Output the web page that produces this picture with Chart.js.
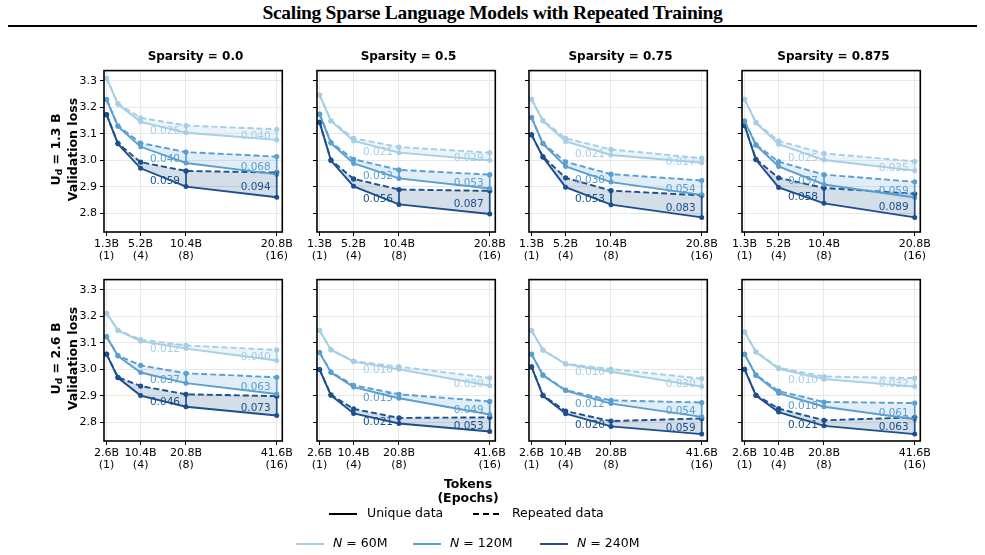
<!DOCTYPE html>
<html>
<head>
<meta charset="utf-8">
<script src="https://cdn.jsdelivr.net/npm/chart.js@4.4.0/dist/chart.umd.min.js"></script>
<style>
  body { margin: 0; width: 985px; height: 555px; background: #fff; position: relative; overflow: hidden; font-family: "DejaVu Sans", sans-serif; color: #000; }
  #mainTitle { position: absolute; left: 0; width: 985px; top: 2px; text-align: center; font-family: "Liberation Serif", serif; font-weight: bold; font-size: 19.5px; letter-spacing: -0.3px; }
  #rule { position: absolute; left: 8px; width: 969px; top: 25px; height: 2px; background: #000; }
  .panel { position: absolute; }
  .ptitle { position: absolute; width: 183px; text-align: center; font-weight: bold; font-size: 12px; }
  .ytitle { position: absolute; width: 200px; text-align: center; font-weight: bold; font-size: 12.5px; line-height: 14px; transform: rotate(-90deg); transform-origin: center center; }
  .ytitle sub { font-size: 9px; vertical-align: -2px; }
  #xtitle { position: absolute; left: 368px; width: 200px; top: 477px; text-align: center; font-weight: bold; font-size: 12.5px; line-height: 14px; }
  .leg { position: absolute; font-size: 12.5px; white-space: nowrap; }
  .leg svg { position: absolute; }
</style>
</head>
<body>
<div id="mainTitle">Scaling Sparse Language Models with Repeated Training</div>
<div id="rule"></div>
<div id="panels"></div>
<div id="xtitle">Tokens<br>(Epochs)</div>
<div class="leg" style="left:329px;top:505px;"><svg width="30" height="4" style="left:0;top:7px"><line x1="0" y1="2" x2="28" y2="2" stroke="#000" stroke-width="2"/></svg><span style="position:absolute;left:38px;top:0">Unique&nbsp;data</span></div>
<div class="leg" style="left:473px;top:505px;"><svg width="30" height="4" style="left:0;top:7px"><line x1="0" y1="2" x2="26" y2="2" stroke="#000" stroke-width="2" stroke-dasharray="6,4"/></svg><span style="position:absolute;left:39px;top:0">Repeated&nbsp;data</span></div>
<div id="legN"></div>

<script>
// ---- data ----
var epochs = [1, 2, 4, 8, 16];
var tickEpochs = [1, 4, 8, 16];
var tokens13 = ["1.3B", "2.6B", "5.2B", "10.4B", "20.8B"];
var tokens26 = ["2.6B", "5.2B", "10.4B", "20.8B", "41.6B"];
var yTicks = [2.8, 2.9, 3.0, 3.1, 3.2, 3.3];
var sparsities = ["0.0", "0.5", "0.75", "0.875"];
var uniqueSizes = ["1.3", "2.6"];
var modelSizes = ["60M", "120M", "240M"];

// validation loss per model size (60M, 120M, 240M), at epochs 1,2,4,8,16
// U_d = 1.3B
var uniq13_s0   = [[3.309, 3.211, 3.145, 3.104, 3.077], [3.229, 3.128, 3.051, 2.990, 2.947], [3.172, 3.062, 2.970, 2.901, 2.861]];
var rep13_s0    = [[3.309, 3.214, 3.160, 3.131, 3.117], [3.229, 3.130, 3.065, 3.031, 3.014], [3.172, 3.064, 2.993, 2.960, 2.954]];
var uniq13_s05  = [[3.246, 3.148, 3.073, 3.029, 3.000], [3.174, 3.065, 2.988, 2.932, 2.894], [3.143, 2.999, 2.902, 2.834, 2.798]];
var rep13_s05   = [[3.246, 3.150, 3.083, 3.050, 3.029], [3.174, 3.067, 3.004, 2.964, 2.946], [3.143, 3.001, 2.930, 2.890, 2.885]];
var uniq13_s075 = [[3.230, 3.148, 3.071, 3.020, 2.991], [3.161, 3.062, 2.977, 2.918, 2.870], [3.096, 3.012, 2.899, 2.833, 2.785]];
var rep13_s075  = [[3.230, 3.150, 3.083, 3.041, 3.008], [3.161, 3.064, 2.994, 2.948, 2.924], [3.096, 3.014, 2.934, 2.886, 2.868]];
var uniq13_s0875 = [[3.230, 3.141, 3.061, 3.001, 2.961], [3.148, 3.057, 2.977, 2.909, 2.860], [3.131, 3.002, 2.898, 2.838, 2.785]];
var rep13_s0875  = [[3.230, 3.143, 3.073, 3.026, 2.996], [3.148, 3.059, 2.995, 2.946, 2.919], [3.131, 3.004, 2.934, 2.896, 2.874]];
// U_d = 2.6B
var uniq26_s0   = [[3.211, 3.146, 3.106, 3.078, 3.033], [3.123, 3.050, 2.988, 2.948, 2.907], [3.057, 2.968, 2.901, 2.859, 2.826]];
var rep26_s0    = [[3.211, 3.148, 3.112, 3.090, 3.073], [3.123, 3.052, 3.015, 2.985, 2.970], [3.057, 2.970, 2.937, 2.906, 2.899]];
var uniq26_s05  = [[3.146, 3.073, 3.029, 3.000, 2.938], [3.063, 2.988, 2.933, 2.891, 2.830], [2.999, 2.902, 2.834, 2.796, 2.766]];
var rep26_s05   = [[3.146, 3.074, 3.031, 3.010, 2.968], [3.063, 2.990, 2.940, 2.906, 2.879], [2.999, 2.904, 2.851, 2.817, 2.819]];
var uniq26_s075 = [[3.146, 3.072, 3.020, 2.991, 2.935], [3.057, 2.977, 2.920, 2.871, 2.821], [3.009, 2.900, 2.833, 2.785, 2.756]];
var rep26_s075  = [[3.146, 3.073, 3.021, 3.001, 2.965], [3.057, 2.979, 2.922, 2.883, 2.875], [3.009, 2.902, 2.843, 2.805, 2.815]];
var uniq26_s0875 = [[3.141, 3.065, 3.002, 2.963, 2.935], [3.057, 2.977, 2.910, 2.859, 2.812], [3.000, 2.901, 2.839, 2.787, 2.756]];
var rep26_s0875  = [[3.141, 3.066, 3.006, 2.973, 2.967], [3.057, 2.979, 2.918, 2.877, 2.873], [3.000, 2.903, 2.852, 2.808, 2.819]];

// printed gaps at 8 and 16 epochs
var gap13_s0    = [["0.026", "0.040"], ["0.040", "0.068"], ["0.059", "0.094"]];
var gap13_s05   = [["0.021", "0.029"], ["0.032", "0.053"], ["0.056", "0.087"]];
var gap13_s075  = [["0.021", "0.017"], ["0.030", "0.054"], ["0.053", "0.083"]];
var gap13_s0875 = [["0.025", "0.035"], ["0.037", "0.059"], ["0.058", "0.089"]];
var gap26_s0    = [["0.012", "0.040"], ["0.037", "0.063"], ["0.046", "0.073"]];
var gap26_s05   = [["0.010", "0.030"], ["0.015", "0.049"], ["0.021", "0.053"]];
var gap26_s075  = [["0.010", "0.030"], ["0.012", "0.054"], ["0.020", "0.059"]];
var gap26_s0875 = [["0.010", "0.032"], ["0.018", "0.061"], ["0.021", "0.063"]];

var lineColors = ["#a6cee4", "#5a9fd0", "#1c4f8c"];
var fillColors = ["rgba(166,206,228,0.22)", "rgba(90,159,208,0.18)", "rgba(28,79,140,0.19)"];

var panels = [
  { row: 0, col: 0, uniq: uniq13_s0,    rep: rep13_s0,    gaps: gap13_s0 },
  { row: 0, col: 1, uniq: uniq13_s05,   rep: rep13_s05,   gaps: gap13_s05 },
  { row: 0, col: 2, uniq: uniq13_s075,  rep: rep13_s075,  gaps: gap13_s075 },
  { row: 0, col: 3, uniq: uniq13_s0875, rep: rep13_s0875, gaps: gap13_s0875 },
  { row: 1, col: 0, uniq: uniq26_s0,    rep: rep26_s0,    gaps: gap26_s0 },
  { row: 1, col: 1, uniq: uniq26_s05,   rep: rep26_s05,   gaps: gap26_s05 },
  { row: 1, col: 2, uniq: uniq26_s075,  rep: rep26_s075,  gaps: gap26_s075 },
  { row: 1, col: 3, uniq: uniq26_s0875, rep: rep26_s0875, gaps: gap26_s0875 }
];

// ---- layout ----
var plotLefts = [104, 317, 529, 742];
var plotTops = [65, 274];
var plotW = 183, plotH = 167;
var padL = 40, padT = 4, padR = 8, padB = 40;

var frame = {
  id: "frame",
  afterDraw: function (chart) {
    var a = chart.chartArea, ctx = chart.ctx;
    ctx.save();
    ctx.strokeStyle = "#000";
    ctx.lineWidth = 1.6;
    ctx.strokeRect(a.left, a.top, a.right - a.left, a.bottom - a.top);
    ctx.restore();
  }
};

var gapMarks = {
  id: "gapMarks",
  afterDatasetsDraw: function (chart, args, opts) {
    var xs = chart.scales.x, ys = chart.scales.y, ctx = chart.ctx;
    ctx.save();
    ctx.font = "10.5px 'DejaVu Sans'";
    ctx.textAlign = "right";
    ctx.textBaseline = "middle";
    for (var m = 0; m < 3; m++) {
      [3, 4].forEach(function (i, k) {
        var x = xs.getPixelForValue(epochs[i]);
        var y1 = ys.getPixelForValue(opts.uniq[m][i]);
        var y2 = ys.getPixelForValue(opts.rep[m][i]);
        ctx.strokeStyle = lineColors[m];
        ctx.lineWidth = 1.7;
        ctx.beginPath(); ctx.moveTo(x, y1); ctx.lineTo(x, y2); ctx.stroke();
        ctx.fillStyle = lineColors[m];
        ctx.fillText(opts.gaps[m][k], x - 6, (y1 + y2) / 2 + 2);
      });
    }
    ctx.restore();
  }
};

var holder = document.getElementById("panels");
panels.forEach(function (p, n) {
  var wrap = document.createElement("div");
  wrap.className = "panel";
  wrap.style.left = (plotLefts[p.col] - padL) + "px";
  wrap.style.top = (plotTops[p.row] - padT) + "px";
  wrap.style.width = (padL + plotW + padR) + "px";
  wrap.style.height = (padT + plotH + padB) + "px";
  var cv = document.createElement("canvas");
  wrap.appendChild(cv);
  holder.appendChild(wrap);

  if (p.row === 0) {
    var t = document.createElement("div");
    t.className = "ptitle";
    t.style.left = plotLefts[p.col] + "px";
    t.style.top = "49px";
    t.textContent = "Sparsity = " + sparsities[p.col];
    document.body.appendChild(t);
  }
  if (p.col === 0) {
    var yt = document.createElement("div");
    yt.className = "ytitle";
    yt.style.left = (64 - 100) + "px";
    yt.style.top = (plotTops[p.row] + 83 - 14) + "px";
    yt.innerHTML = "U<sub>d</sub> = " + uniqueSizes[p.row] + " B<br>Validation loss";
    document.body.appendChild(yt);
  }

  var toks = p.row === 0 ? tokens13 : tokens26;
  var ds = [];
  for (var m = 0; m < 3; m++) {
    ds.push({
      label: "N = " + modelSizes[m] + " unique",
      data: epochs.map(function (e, i) { return { x: e, y: p.uniq[m][i] }; }),
      borderColor: lineColors[m], backgroundColor: lineColors[m],
      borderWidth: 1.9, pointRadius: 2.5, pointBorderWidth: 0, fill: false
    });
    ds.push({
      label: "N = " + modelSizes[m] + " repeated",
      data: epochs.map(function (e, i) { return { x: e, y: p.rep[m][i] }; }),
      borderColor: lineColors[m], backgroundColor: lineColors[m],
      borderWidth: 1.9, borderDash: [6, 3], pointRadius: 2.6, pointBorderWidth: 0,
      fill: { target: 2 * m, above: fillColors[m], below: fillColors[m] }
    });
  }

  new Chart(cv, {
    type: "line",
    data: { datasets: ds },
    options: {
      responsive: true,
      maintainAspectRatio: false,
      animation: false,
      events: [],
      layout: { padding: { top: padT, right: padR, left: 0, bottom: 0 } },
      plugins: {
        legend: { display: false },
        tooltip: { enabled: false },
        gapMarks: { uniq: p.uniq, rep: p.rep, gaps: p.gaps }
      },
      scales: {
        x: {
          type: "linear", min: 0.77, max: 16.49,
          afterBuildTicks: function (s) { s.ticks = tickEpochs.map(function (v) { return { value: v }; }); },
          afterFit: function (s) { s.height = padB; },
          ticks: {
            autoSkip: false, maxRotation: 0, padding: 2, color: "#000",
            font: { family: "DejaVu Sans", size: 11, lineHeight: 1.1 },
            callback: function (v) { return [toks[epochs.indexOf(v)], "(" + v + ")"]; }
          },
          grid: { color: "#e8e8e8", lineWidth: 1, tickColor: "#000", tickLength: 4 },
          border: { display: false }
        },
        y: {
          min: 2.73, max: 3.338,
          afterBuildTicks: function (s) { s.ticks = yTicks.map(function (v) { return { value: v }; }); },
          afterFit: function (s) { s.width = padL; },
          ticks: {
            padding: 3, color: "#000",
            font: { family: "DejaVu Sans", size: 11 },
            callback: function (v) { return p.col === 0 ? v.toFixed(1) : ""; }
          },
          grid: { color: "#e8e8e8", lineWidth: 1, tickColor: "#000", tickLength: 4 },
          border: { display: false }
        }
      }
    },
    plugins: [frame, gapMarks]
  });
});

// model size legend
var legX = [296, 413, 540];
var legN = document.getElementById("legN");
modelSizes.forEach(function (s, m) {
  var d = document.createElement("div");
  d.className = "leg";
  d.style.left = legX[m] + "px";
  d.style.top = "535px";
  d.innerHTML = '<svg width="30" height="4" style="left:0;top:7px"><line x1="0" y1="2" x2="28" y2="2" stroke="' + lineColors[m] + '" stroke-width="2"/></svg>' +
    '<span style="position:absolute;left:37px;top:0"><i>N</i>&nbsp;=&nbsp;' + s + '</span>';
  legN.appendChild(d);
});
</script>
</body>
</html>
